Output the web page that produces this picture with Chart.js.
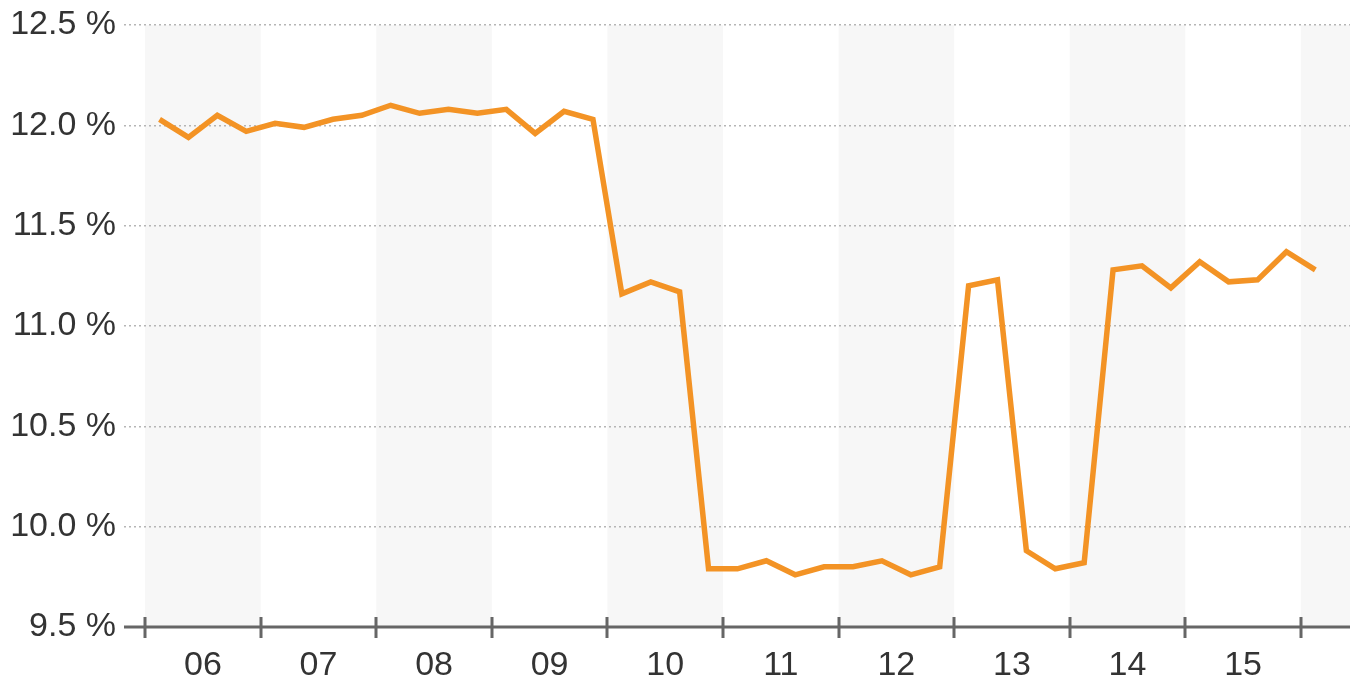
<!DOCTYPE html>
<html>
<head>
<meta charset="utf-8">
<script src="https://cdn.jsdelivr.net/npm/chart.js@4.4.1/dist/chart.umd.min.js"></script>
<style>
  html, body { margin: 0; padding: 0; background: #fff; }
  #wrap { width: 1355px; height: 677px; position: relative; }
</style>
</head>
<body>
<div id="wrap"><canvas id="ratioChart"></canvas></div>
<script>
// year labels (one per 4 quarters), 2006 .. 2015
var years = ['06', '07', '08', '09', '10', '11', '12', '13', '14', '15'];

// quarterly values, 2006 Q1 .. 2016 Q1
var quarterValues = [
    12.03, 11.94, 12.05, 11.97,
    12.01, 11.99, 12.03, 12.05,
    12.10, 12.06, 12.08, 12.06,
    12.08, 11.96, 12.07, 12.03,
    11.16, 11.22, 11.17, 9.79,
    9.79, 9.83, 9.76, 9.80,
    9.80, 9.83, 9.76, 9.80,
    11.20, 11.23, 9.88, 9.79,
    9.82, 11.28, 11.30, 11.19,
    11.32, 11.22, 11.23, 11.37,
    11.28
];

var yTicks = [9.5, 10.0, 10.5, 11.0, 11.5, 12.0, 12.5];

var points = quarterValues.map(function (v, i) {
    return { x: i + 0.5, y: v };
});

var bandsPlugin = {
    id: 'bands',
    beforeDraw: function (chart) {
        var ctx = chart.ctx;
        var sx = chart.scales.x;
        var area = chart.chartArea;
        ctx.save();
        ctx.fillStyle = '#f7f7f7';
        for (var k = 0; k <= years.length; k += 2) {
            var x0 = sx.getPixelForValue(k * 4);
            var x1 = Math.min(sx.getPixelForValue(k * 4 + 4), area.right);
            ctx.fillRect(x0, area.top, x1 - x0, area.bottom - area.top);
        }
        ctx.restore();
    },
    afterDatasetsDraw: function (chart) {
        var ctx = chart.ctx;
        var sx = chart.scales.x;
        var area = chart.chartArea;
        ctx.save();
        ctx.strokeStyle = '#666';
        ctx.lineWidth = 3;
        ctx.beginPath();
        ctx.moveTo(area.left, area.bottom);
        ctx.lineTo(area.right, area.bottom);
        for (var k = 0; k <= years.length; k++) {
            var px = Math.round(sx.getPixelForValue(k * 4));
            ctx.moveTo(px, area.bottom - 10);
            ctx.lineTo(px, area.bottom + 11);
        }
        ctx.stroke();
        ctx.restore();
    }
};

var ctx = document.getElementById('ratioChart').getContext('2d');

var ratioChart = new Chart(ctx, {
    type: 'line',
    data: {
        datasets: [{
            data: points,
            borderColor: '#f39325',
            borderWidth: 5.5,
            pointRadius: 0,
            tension: 0,
            fill: false
        }]
    },
    options: {
        responsive: true,
        maintainAspectRatio: false,
        animation: false,
        events: [],
        layout: { padding: { top: 25, right: 5, bottom: 0, left: 0 } },
        plugins: {
            legend: { display: false },
            tooltip: { enabled: false }
        },
        scales: {
            x: {
                type: 'linear',
                min: -0.73,
                max: 41.7,
                afterBuildTicks: function (scale) {
                    scale.ticks = years.map(function (y, i) { return { value: i * 4 + 2 }; });
                },
                afterFit: function (scale) {
                    scale.height = 50;
                    scale.paddingLeft = 0;
                    scale.paddingRight = 0;
                },
                grid: { display: false },
                border: { display: false },
                ticks: {
                    autoSkip: false,
                    maxRotation: 0,
                    padding: 10,
                    color: '#333',
                    font: { family: '"Liberation Sans", Arial, sans-serif', size: 34 },
                    callback: function (value) {
                        return years[Math.round((value - 2) / 4)];
                    }
                }
            },
            y: {
                min: 9.5,
                max: 12.5,
                afterBuildTicks: function (scale) {
                    scale.ticks = yTicks.map(function (v) { return { value: v }; });
                },
                afterFit: function (scale) {
                    scale.width = 124;
                    scale.paddingTop = 0;
                    scale.paddingBottom = 0;
                },
                grid: {
                    color: '#b5b5b5',
                    lineWidth: 1.5,
                    drawTicks: false
                },
                border: { display: false, dash: [2, 3] },
                ticks: {
                    padding: 8,
                    color: '#333',
                    font: { family: '"Liberation Sans", Arial, sans-serif', size: 34 },
                    callback: function (value) {
                        return value.toFixed(1) + ' %';
                    }
                }
            }
        }
    },
    plugins: [bandsPlugin]
});
</script>
</body>
</html>
